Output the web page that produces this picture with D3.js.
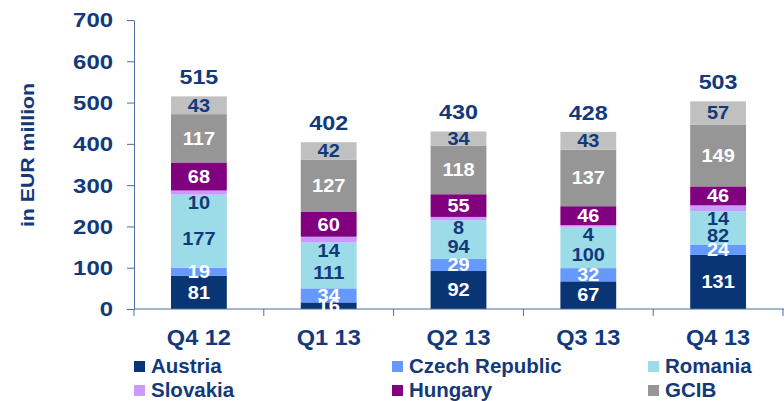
<!DOCTYPE html>
<html>
<head>
<meta charset="utf-8">
<script src="https://cdn.jsdelivr.net/npm/d3@7"></script>
<style>
  body { margin: 0; background: #fff; }
  svg text { font-family: "Liberation Sans", Arial, sans-serif; font-weight: bold; }
</style>
</head>
<body>
<svg id="drawing_region"></svg>
<script>
// data
const categories = ['Q4 12', 'Q1 13', 'Q2 13', 'Q3 13', 'Q4 13'];
const austria   = [81, 16, 92, 67, 131];
const czech     = [19, 34, 29, 32, 24];
const romania   = [177, 111, 94, 100, 82];
const slovakia  = [10, 14, 8, 4, 14];
const hungary   = [68, 60, 55, 46, 46];
const gcib      = [117, 127, 118, 137, 149];
const other     = [43, 42, 34, 43, 57];
const totals    = [515, 402, 430, 428, 503];
const yTicks    = [0, 100, 200, 300, 400, 500, 600, 700];

const keys = ['Austria', 'Czech Republic', 'Romania', 'Slovakia', 'Hungary', 'GCIB', 'Other'];
const series = [austria, czech, romania, slovakia, hungary, gcib, other];
const legendKeys = ['Austria', 'Czech Republic', 'Romania', 'Slovakia', 'Hungary', 'GCIB'];

const colors = {
    'Austria': '#0a3575',
    'Czech Republic': '#6699ff',
    'Romania': '#9cdbe8',
    'Slovakia': '#cc99ff',
    'Hungary': '#800080',
    'GCIB': '#969696',
    'Other': '#c0c0c0'
};
const labelColor = {
    'Austria': '#fff', 'Czech Republic': '#fff', 'Romania': '#12397a',
    'Slovakia': '#12397a', 'Hungary': '#fff', 'GCIB': '#fff', 'Other': '#12397a'
};
const textColor = '#12397a';
const axisColor = '#4d6d9e';

const table = categories.map((c, i) => {
    const row = { cat: c, total: totals[i] };
    keys.forEach((k, j) => row[k] = series[j][i]);
    return row;
});

const W = 784, H = 401;
const plot = { left: 134, right: 783, top: 20, bottom: 309 };

const svg = d3.select('#drawing_region')
    .attr('width', W)
    .attr('height', H);

const x = d3.scaleBand().domain(categories).range([plot.left, plot.right]).padding(0);
const y = d3.scaleLinear().domain([0, 700]).range([plot.bottom, plot.top]);
const barW = x.bandwidth() * 0.43;

const stack = d3.stack().keys(keys)(table);

// bars
const layers = svg.append('g').selectAll('g')
    .data(stack)
    .join('g')
    .attr('fill', d => colors[d.key]);

layers.selectAll('rect')
    .data(d => d)
    .join('rect')
    .attr('x', d => x(d.data.cat) + x.bandwidth() / 2 - barW / 2)
    .attr('y', d => y(d[1]))
    .attr('width', barW)
    .attr('height', d => y(d[0]) - y(d[1]));

// axes
const yAxis = svg.append('g')
    .attr('transform', `translate(${plot.left},0)`)
    .call(d3.axisLeft(y).tickValues(yTicks).tickSize(7).tickSizeOuter(0));
yAxis.select('.domain').attr('stroke', axisColor);
yAxis.selectAll('.tick line').attr('stroke', axisColor);
yAxis.selectAll('.tick text')
    .attr('x', null).attr('dy', null)
    .attr('dominant-baseline', 'central')
    .attr('transform', 'translate(-21,0) scale(1.14,1)')
    .attr('fill', textColor)
    .style('font-size', '21px')
    .style('font-family', '"Liberation Sans", Arial, sans-serif')
    .style('font-weight', 'bold');

const xAxis = svg.append('g')
    .attr('transform', `translate(0,${plot.bottom})`);
xAxis.append('line')
    .attr('x1', plot.left).attr('x2', W)
    .attr('stroke', axisColor);
xAxis.selectAll('line.tk')
    .data(categories.concat(['end']))
    .join('line')
    .attr('class', 'tk')
    .attr('x1', (d, i) => plot.left + i * x.step()).attr('x2', (d, i) => plot.left + i * x.step())
    .attr('y1', 0).attr('y2', 7)
    .attr('stroke', axisColor);
xAxis.selectAll('text')
    .data(categories)
    .join('text')
    .attr('transform', d => `translate(${x(d) + x.bandwidth() / 2},36) scale(1.07,1)`)
    .attr('text-anchor', 'middle')
    .attr('fill', textColor)
    .style('font-size', '22px')
    .text(d => d);

// y title
svg.append('text')
    .attr('transform', 'translate(34,155) rotate(-90) scale(1.12,1)')
    .attr('text-anchor', 'middle')
    .attr('fill', textColor)
    .style('font-size', '19px')
    .text('in EUR million');

// segment labels
const labels = [];
stack.forEach(layer => {
    layer.forEach((d, i) => {
        const k = layer.key;
        let cy = (y(d[0]) + y(d[1])) / 2;
        if (k === 'Slovakia') cy = y(d[0]) + 8;
        labels.push({ key: k, cat: d.data.cat, v: d.data[k], cy: cy, lo: y(d[0]), i: i });
    });
});
// Romania label sits under the Slovakia label
labels.filter(l => l.key === 'Romania').forEach(l => {
    const s = labels.find(m => m.key === 'Slovakia' && m.i === l.i);
    l.cy = (s.cy + 7 + l.lo) / 2;
});

svg.append('g').selectAll('text')
    .data(labels)
    .join('text')
    .attr('transform', d => `translate(${x(d.cat) + x.bandwidth() / 2},${d.cy}) scale(1.08,1)`)
    .attr('text-anchor', 'middle')
    .attr('dominant-baseline', 'central')
    .attr('fill', d => labelColor[d.key])
    .style('font-size', '18.5px')
    .text(d => d.v);

// totals
const tops = stack[stack.length - 1];
svg.append('g').selectAll('text')
    .data(tops)
    .join('text')
    .attr('transform', d => `translate(${x(d.data.cat) + x.bandwidth() / 2},${y(d[1]) - 12}) scale(1.11,1)`)
    .attr('text-anchor', 'middle')
    .attr('fill', textColor)
    .style('font-size', '21px')
    .text(d => d.data.total);

// legend
const legX = [134, 392, 648];
const legY = [373, 397];
const legend = svg.append('g').selectAll('g')
    .data(legendKeys)
    .join('g')
    .attr('transform', (d, i) => `translate(${legX[i % 3]},${legY[Math.floor(i / 3)]})`);
legend.append('rect')
    .attr('x', 0).attr('y', -12)
    .attr('width', 11).attr('height', 11)
    .attr('fill', d => colors[d]);
legend.append('text')
    .attr('x', 17)
    .attr('fill', textColor)
    .style('font-size', '20.5px')
    .text(d => d);
</script>
</body>
</html>
